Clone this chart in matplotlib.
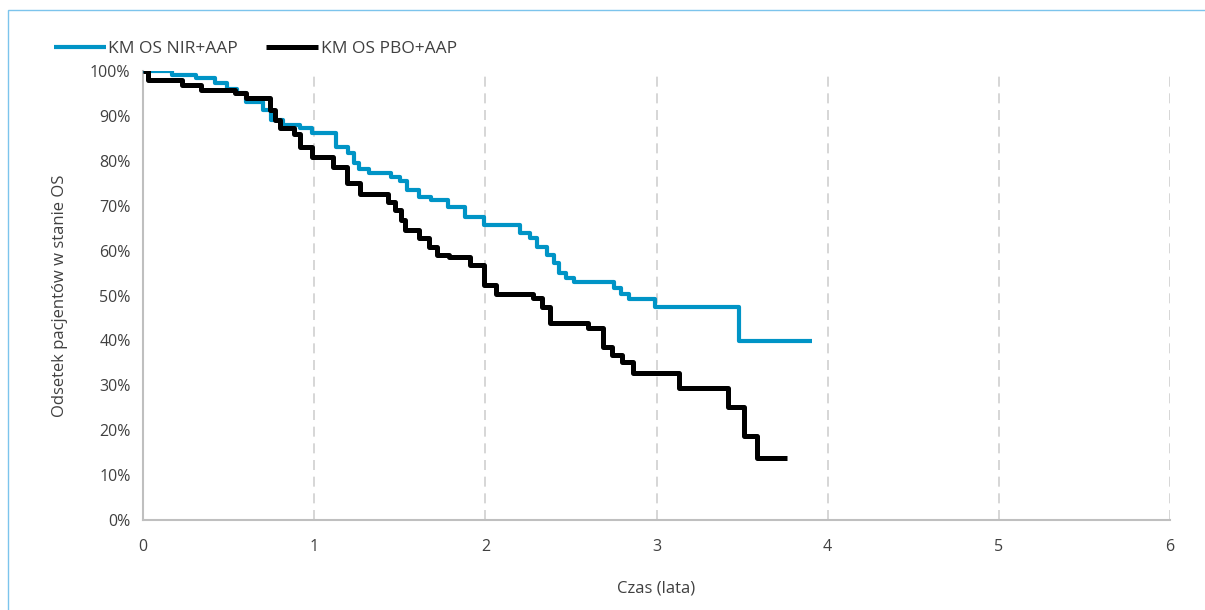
import matplotlib
matplotlib.use("Agg")
import matplotlib.pyplot as plt
from matplotlib.patches import Rectangle
from matplotlib.ticker import FuncFormatter

plt.rcParams['font.family'] = ['Open Sans', 'DejaVu Sans']

# Kaplan-Meier step data (time in years, survival in %)
nir_t = [0, 0.17, 0.31, 0.42, 0.49, 0.55, 0.60, 0.70, 0.75, 0.82, 0.92, 0.99,
         1.13, 1.20, 1.23, 1.26, 1.32, 1.45, 1.50, 1.54, 1.61, 1.68, 1.78, 1.88,
         1.99, 2.20, 2.26, 2.30, 2.36, 2.40, 2.43, 2.47, 2.52, 2.75, 2.79, 2.84,
         2.99, 3.48, 3.91]
nir_s = [100, 99.1, 98.4, 97.3, 96.1, 95.0, 93.2, 91.3, 89.1, 88.0, 87.2, 86.1,
         83.1, 81.7, 79.4, 78.1, 77.2, 76.3, 75.4, 73.5, 72.0, 71.3, 69.8, 67.5,
         65.7, 63.9, 62.7, 60.9, 59.0, 57.2, 54.9, 54.0, 53.0, 51.7, 50.3, 49.2,
         47.5, 39.9, 39.9]

pbo_t = [0, 0.03, 0.23, 0.34, 0.54, 0.60, 0.74, 0.77, 0.80, 0.88, 0.92, 0.99,
         1.11, 1.19, 1.27, 1.43, 1.47, 1.51, 1.53, 1.61, 1.67, 1.72, 1.79, 1.91,
         1.99, 2.06, 2.28, 2.33, 2.38, 2.60, 2.69, 2.74, 2.80, 2.86, 3.13, 3.42,
         3.51, 3.585, 3.76]
pbo_s = [100, 98.0, 96.9, 95.8, 95.0, 94.0, 91.3, 89.0, 87.3, 86.0, 83.1, 80.9,
         78.7, 75.0, 72.6, 70.9, 69.0, 66.8, 64.6, 62.7, 60.9, 59.0, 58.6, 56.8,
         52.3, 50.4, 49.4, 47.5, 43.8, 42.7, 38.6, 36.7, 35.3, 32.7, 29.3, 25.2,
         18.8, 13.7, 13.7]

series_labels = ['KM OS NIR+AAP', 'KM OS PBO+AAP']
x_ticks = [0, 1, 2, 3, 4, 5, 6]
y_ticks = [0, 10, 20, 30, 40, 50, 60, 70, 80, 90, 100]

fig = plt.figure(figsize=(12.05, 6.1), dpi=100)
ax = fig.add_axes([143/1205, 1 - 520/610, (1170 - 143)/1205, (520 - 71)/610])

# outer light-blue border (chart frame)
fig.patches.append(Rectangle((8/1205, -0.1), 1.2, 1 - 10/610 + 0.1,
                             transform=fig.transFigure, fill=False,
                             edgecolor='#7cc4ec', linewidth=1.0, zorder=0))

ax.step(nir_t, nir_s, where='post', color='#0094c6', lw=3.0,
        label=series_labels[0], solid_capstyle='butt', zorder=3)
ax.step(pbo_t, pbo_s, where='post', color='#000000', lw=3.6,
        label=series_labels[1], solid_capstyle='butt', zorder=4)

ax.set_xlim(0, 6)
ax.set_ylim(0, 100)
ax.set_xticks(x_ticks)
ax.set_yticks(y_ticks)
ax.yaxis.set_major_formatter(FuncFormatter(lambda v, p: f'{int(v)}%'))
ax.tick_params(length=0, labelsize=11.5, colors='#404040', pad=9)
ax.tick_params(axis='x', pad=14)

for xv in x_ticks[1:]:
    ax.axvline(xv, color='#d0d0d0', lw=1.2, ls=(0, (6, 4)), zorder=1)

for s in ['top', 'right']:
    ax.spines[s].set_visible(False)
for s in ['left', 'bottom']:
    ax.spines[s].set_color('#bfbfbf')
    ax.spines[s].set_linewidth(1.5)

ax.set_xlabel('Czas (lata)', fontsize=12, color='#404040', labelpad=18)
ax.set_ylabel('Odsetek pacjentów w stanie OS', fontsize=12, color='#404040', labelpad=16)

leg = fig.legend(loc='upper left', bbox_to_anchor=(38/1205, 1 - 25/610),
                 ncol=2, frameon=False, fontsize=12.5, handlelength=3.0,
                 handletextpad=0.15, columnspacing=1.6, labelcolor='#404040')

fig.savefig('out.png', dpi=100, facecolor='white')
